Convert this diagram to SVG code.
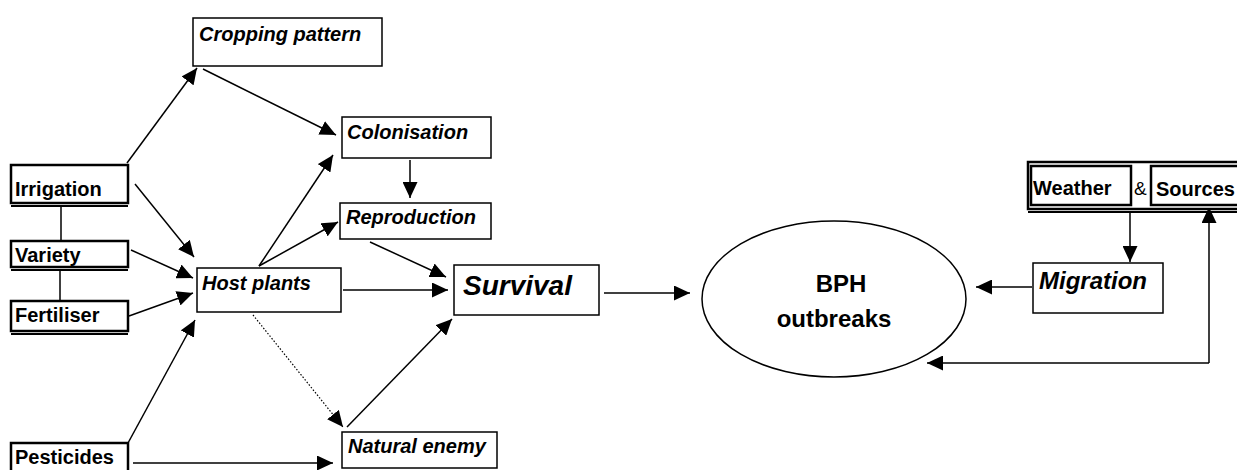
<svg xmlns="http://www.w3.org/2000/svg" width="1237" height="470" viewBox="0 0 1237 470">
<defs>
<style>
.bx{fill:#fff;stroke:#000;stroke-width:1.5}
.tk{fill:#fff;stroke:#000;stroke-width:2.5}
.dl{stroke:#000;stroke-width:2}
.t{font-family:"Liberation Sans",Arial,sans-serif;font-weight:bold;fill:#000}
.i{font-style:italic}
.c line,.c path{stroke:#000;stroke-width:1.5;fill:none}
.a{marker-end:url(#ah)}
</style>
<marker id="ah" markerUnits="userSpaceOnUse" markerWidth="16" markerHeight="15" refX="16" refY="7.5" orient="auto">
<path d="M0,0 L16,7.5 L0,15 z" fill="#000"/>
</marker>
</defs>
<rect width="1237" height="470" fill="#fff"/>
<g class="c" id="connectors">
<line class="a" x1="127" y1="163" x2="197" y2="68"/>
<line class="a" x1="203" y1="69" x2="336" y2="135"/>
<line class="a" x1="135" y1="184" x2="194" y2="257"/>
<line class="a" x1="131" y1="250" x2="193" y2="278"/>
<line class="a" x1="129" y1="316" x2="193" y2="293"/>
<line class="a" x1="128" y1="443" x2="195" y2="320"/>
<line class="a" x1="133" y1="463" x2="333" y2="463"/>
<line class="a" x1="259" y1="266" x2="333" y2="155"/>
<line class="a" x1="259" y1="266" x2="338" y2="222"/>
<line class="a" x1="410" y1="160" x2="410" y2="198"/>
<line class="a" x1="343" y1="290" x2="448" y2="290"/>
<line class="a" x1="370" y1="242" x2="446" y2="277"/>
<line class="a" x1="347" y1="427" x2="452" y2="319"/>
<line class="a" x1="253" y1="315" x2="343" y2="427" style="stroke-width:1.2;stroke-dasharray:1.5,1.8"/>
<line class="a" x1="604" y1="293" x2="690" y2="293"/>
<line class="a" x1="1032" y1="287" x2="976" y2="287"/>
<line class="a" x1="1130" y1="212" x2="1130" y2="262"/>
<line class="a" x1="1209" y1="363" x2="1209" y2="207"/>
<line class="a" x1="1209" y1="363" x2="927" y2="363"/>
<line x1="61" y1="205" x2="61" y2="240"/>
<line x1="60" y1="269" x2="60" y2="300"/>
</g>
<g id="cropping">
<rect class="bx" x="193" y="18" width="189" height="48"/>
<text class="t i" x="199" y="41" font-size="20">Cropping pattern</text>
</g>
<g id="colonisation">
<rect class="bx" x="342" y="117" width="149" height="41"/>
<text class="t i" x="347" y="139" font-size="20">Colonisation</text>
</g>
<g id="reproduction">
<rect class="bx" x="340" y="203" width="151" height="36"/>
<text class="t i" x="346" y="224" font-size="20">Reproduction</text>
</g>
<g id="hostplants">
<rect class="bx" x="197" y="268" width="144" height="44"/>
<text class="t i" x="202" y="290" font-size="20">Host plants</text>
</g>
<g id="survival">
<rect class="bx" x="454" y="265" width="145" height="50"/>
<text class="t i" x="463" y="295" font-size="28">Survival</text>
</g>
<g id="naturalenemy">
<rect class="bx" x="342" y="432" width="155" height="36"/>
<text class="t i" x="348" y="453" font-size="20">Natural enemy</text>
</g>
<g id="irrigation">
<rect class="tk" x="11" y="165" width="117" height="38"/>
<line class="dl" x1="11" y1="206" x2="128" y2="206"/>
<text class="t" x="15" y="196" font-size="20">Irrigation</text>
</g>
<g id="variety">
<rect class="tk" x="11" y="241" width="117" height="26"/>
<line class="dl" x1="11" y1="270" x2="128" y2="270"/>
<text class="t" x="15" y="262" font-size="20">Variety</text>
</g>
<g id="fertiliser">
<rect class="tk" x="11" y="301" width="117" height="30"/>
<line class="dl" x1="11" y1="334" x2="128" y2="334"/>
<text class="t" x="15" y="322" font-size="20">Fertiliser</text>
</g>
<g id="pesticides">
<rect class="tk" x="11" y="443" width="117" height="40"/>
<text class="t" x="15" y="464" font-size="20">Pesticides</text>
</g>
<g id="bph">
<ellipse cx="834" cy="299" rx="132" ry="78" fill="#fff" stroke="#000" stroke-width="1.5"/>
<text class="t" x="841" y="292" font-size="24" text-anchor="middle">BPH</text>
<text class="t" x="834" y="327" font-size="24" text-anchor="middle">outbreaks</text>
</g>
<g id="migration">
<rect class="bx" x="1033" y="263" width="130" height="50"/>
<text class="t i" x="1039" y="289" font-size="24">Migration</text>
</g>
<g id="weathersources">
<rect class="tk" x="1028" y="162" width="220" height="47"/>
<line class="dl" x1="1028" y1="212" x2="1237" y2="212"/>
<rect class="tk" x="1031" y="166" width="100" height="39"/>
<rect class="tk" x="1151" y="166" width="95" height="39"/>
<text class="t" x="1033" y="195" font-size="20">Weather</text>
<text x="1134" y="195" font-size="19" font-family="Liberation Sans,Arial,sans-serif">&amp;</text>
<text class="t" x="1156" y="196" font-size="20">Sources</text>
</g>
</svg>
